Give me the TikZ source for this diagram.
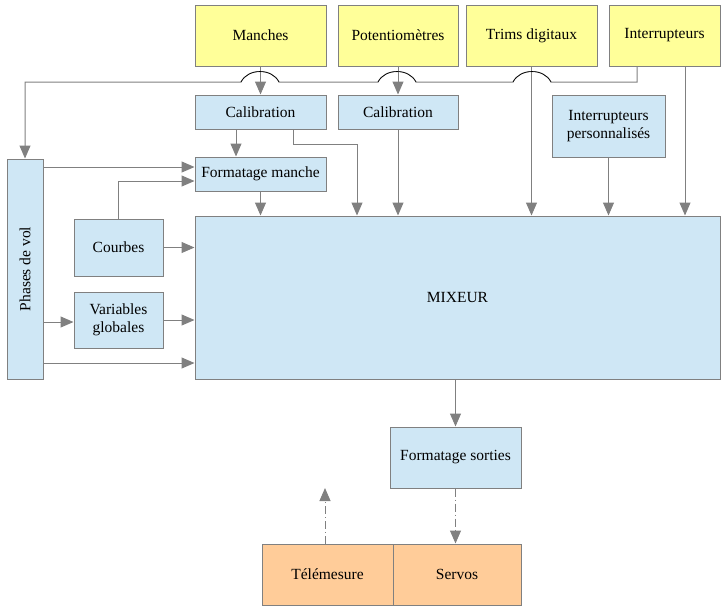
\documentclass[tikz,border=0pt]{standalone}
\usepackage{fontspec}
\setmainfont{LiberationSerif}[Extension=.ttf, UprightFont=*-Regular, BoldFont=*-Bold, ItalicFont=*-Italic, BoldItalicFont=*-BoldItalic]
\usetikzlibrary{arrows.meta}
\definecolor{fondjaune}{HTML}{FFFF99}
\definecolor{fondbleu}{HTML}{CFE7F5}
\definecolor{fondorange}{HTML}{FFCC99}
\definecolor{trait}{HTML}{808080}

\begin{document}
\begin{tikzpicture}[x=1pt, y=-1pt,  every node/.style={draw=trait, line width=1pt, inner sep=2pt, align=center, font=\fontsize{15.5}{18}\selectfont},  entree/.style={fill=fondjaune, minimum height=61},  bloc/.style={fill=fondbleu},  sortie/.style={fill=fondorange, minimum width=131, minimum height=61},  fleche/.style={draw=trait, line width=1pt, -{Triangle[length=13pt,width=11pt]}},  pointille/.style={fleche, dash pattern=on 8pt off 3pt on 1pt off 3pt}]
  \useasboundingbox (0,0) rectangle (727,611);

  \node[entree, minimum width=131] (Manches) at (260.5,35.5) {Manches};
  \node[entree, minimum width=120] (Pot) at (398,35.5) {Potentiomètres};
  \node[entree, minimum width=131] (Trims) at (531.5,35.5) {Trims digitaux};
  \node[entree, minimum width=111] (Inter) at (664.5,35.5) {Interrupteurs};

  \node[bloc, minimum width=131, minimum height=34] (CalA) at (260.5,112) {Calibration};
  \node[bloc, minimum width=120, minimum height=34] (CalB) at (398,112) {Calibration};
  \node[bloc, minimum width=113, minimum height=62] (Perso) at (608.5,126) {Interrupteurs\\personnalisés};
  \node[bloc, minimum width=131, minimum height=34] (Form) at (260.5,174) {Formatage manche};
  \node[bloc, minimum width=36, minimum height=220] (Phases) at (25,269) {\rotatebox{90}{Phases de vol}};
  \node[bloc, minimum width=89, minimum height=57] (Courbes) at (118.5,247.5) {Courbes};
  \node[bloc, minimum width=89, minimum height=56] (Var) at (118.5,320) {Variables\\globales};
  \node[bloc, minimum width=525, minimum height=163] (Mix) at (457.5,297.5) {MIXEUR};
  \node[bloc, minimum width=131, minimum height=61] (Sorties) at (455.5,457.5) {Formatage sorties};

  \node[sortie] (Tele) at (327.5,574.5) {Télémesure};
  \node[sortie, minimum width=128] (Servos) at (457,574.5) {Servos};
  \coordinate (TeleOut) at (325,488);

  % entrees vers calibration et mixeur
  \draw[fleche] (Manches) -- (CalA);
  \draw[fleche] (Pot) -- (CalB);
  \draw[fleche] (CalB) -- (CalB |- Mix.north);
  \draw[fleche] (Trims) -- (Trims |- Mix.north);
  \draw[fleche] (Inter.south -| 685,0) -- (685,0 |- Mix.north);
  \draw[fleche] (Perso) -- (Perso |- Mix.north);
  \draw[fleche] (CalA.south -| 236,0) -- (236,0 |- Form.north);
  \draw[fleche] (CalA.south -| 293,0) |- (357,144) -- (357,0 |- Mix.north);
  \draw[fleche] (Form) -- (Form |- Mix.north);

  % interrupteurs vers phases de vol, avec sauts
  \draw[fleche] (Inter.south -| 637,0) -- (637,82) -- (551,82)
    .. controls (544,68) and (520,68) .. (513,82) -- (416,82)
    .. controls (409,68) and (385,68) .. (378,82) -- (279,82)
    .. controls (272,68) and (248,68) .. (241,82) -- (25,82) -- (Phases.north);
  \foreach \x in {532,397,260}
    \draw[black, line width=0.6pt] (\x+19,82) .. controls (\x+12,68) and (\x-12,68) .. (\x-19,82);

  % phases de vol, courbes, variables
  \draw[fleche] (Phases.east |- 0,167) -- (Form.west |- 0,167);
  \draw[fleche] (Courbes.north) |- (Form.west |- 0,181);
  \draw[fleche] (Courbes) -- (Courbes -| Mix.west);
  \draw[fleche] (Var) -- (Var -| Mix.west);
  \draw[fleche] (Phases.east |- 0,322) -- (Var.west |- 0,322);
  \draw[fleche] (Phases.east |- 0,363) -- (Mix.west |- 0,363);

  % sorties
  \draw[fleche] (Mix.south -| Sorties) -- (Sorties);
  \draw[pointille] (Sorties) -- (Sorties |- Servos.north);
  \draw[pointille] (Tele.north -| TeleOut) -- (TeleOut);

\end{tikzpicture}
\end{document}
